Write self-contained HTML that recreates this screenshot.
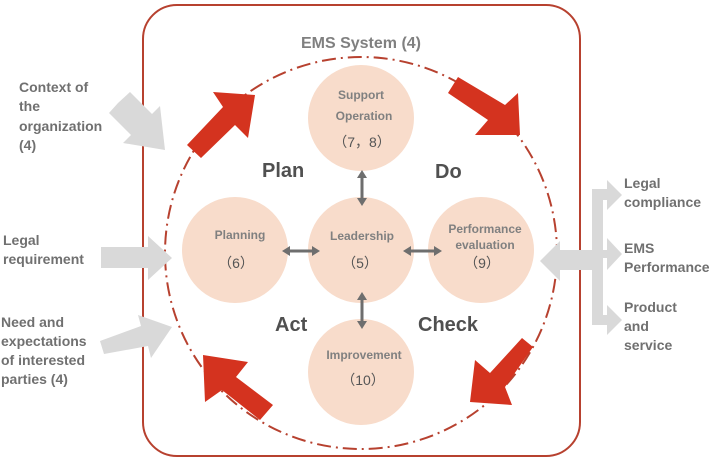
<!DOCTYPE html>
<html><head><meta charset="utf-8"><style>
body{margin:0;background:#fff;width:724px;height:461px;overflow:hidden}
svg{display:block}
text{font-family:"Liberation Sans",sans-serif;font-weight:bold}
</style></head><body>
<svg width="724" height="461" viewBox="0 0 724 461">
<rect x="143" y="5" width="437" height="451" rx="34" fill="none" stroke="#b7412f" stroke-width="2"/>
<text x="361" y="48" font-size="16" fill="#808080" text-anchor="middle" font-weight="bold">EMS System (4)</text>
<circle cx="361" cy="253" r="196" fill="none" stroke="#b7412f" stroke-width="2" stroke-dasharray="14,5,2,5"/>
<g fill="#f8dccb">
<circle cx="361" cy="118" r="53"/><circle cx="235" cy="250" r="53"/><circle cx="361" cy="250" r="53"/><circle cx="481" cy="250" r="53"/><circle cx="361" cy="372" r="53"/>
</g>
<!-- red arrows -->
<g fill="#d4331f">
<polygon points="187,145 223,107 213,92 255,95 248,138 235,125 201,158"/>
<polygon points="458,77 505,105 518,93 520,135 475,135 488,120 448,93"/>
<polygon points="522,338 533,347 505,387 512,405 470,402 475,360 490,373"/>
<polygon points="203,355 248,362 236,377 273,405 260,420 222,390 205,402"/>
</g>
<!-- dark connectors -->
<g stroke="#6e6e6e" stroke-width="3" fill="#6e6e6e">
<line x1="362" y1="176" x2="362" y2="200"/><polygon points="357,178 367,178 362,170" stroke="none"/><polygon points="357,198 367,198 362,206" stroke="none"/>
<line x1="362" y1="298" x2="362" y2="323"/><polygon points="357,300 367,300 362,292" stroke="none"/><polygon points="357,321 367,321 362,329" stroke="none"/>
<line x1="288" y1="251" x2="314" y2="251"/><polygon points="290,246 290,256 282,251" stroke="none"/><polygon points="312,246 312,256 320,251" stroke="none"/>
<line x1="409" y1="251" x2="436" y2="251"/><polygon points="411,246 411,256 403,251" stroke="none"/><polygon points="434,246 434,256 442,251" stroke="none"/>
</g>
<g font-size="12" fill="#808080" text-anchor="middle">
<text x="361" y="99">Support</text><text x="364" y="120">Operation</text>
<text x="240" y="239">Planning</text><text x="362" y="240">Leadership</text>
<text x="485" y="233">Performance</text><text x="485" y="249">evaluation</text>
<text x="364" y="359">Improvement</text>
</g>
<g font-size="14" fill="#555" text-anchor="middle">
<text x="362" y="147" font-weight="normal" style="font-weight:normal">（7，8）</text>
<text x="236" y="268" style="font-weight:normal">（6）</text>
<text x="360" y="268" style="font-weight:normal">（5）</text>
<text x="482" y="268" style="font-weight:normal">（9）</text>
<text x="363" y="385" style="font-weight:normal">（10）</text>
</g>
<g font-size="20" fill="#505050">
<text x="262" y="177">Plan</text><text x="435" y="178">Do</text>
<text x="275" y="331">Act</text><text x="418" y="331">Check</text>
</g>
<!-- gray arrows left -->
<g fill="#d9d9d9">
<polygon points="118,103 130,92 152,114 160,106 165,150 123,143 131,135 109,113"/>
<polygon points="101,247 148,247 148,236 172,258 148,280 148,268 101,268"/>
<polygon points="104,354 100,341 141,326 138,315 172,327 151,358 148,346"/>
<polygon points="540,261 560,241 560,250 592,250 592,189 607,189 607,180 622,195 607,210 607,200 603,200 603,250 607,250 607,238 622,254 607,270 607,258 603,258 603,315 607,315 607,305 622,320 607,335 607,325 592,325 592,270 560,270 560,281"/>
</g>
<g font-size="14" fill="#707070">
<text x="19" y="92">Context of</text><text x="19" y="111">the</text><text x="19" y="131">organization</text><text x="19" y="150">(4)</text>
<text x="3" y="245">Legal</text><text x="3" y="264">requirement</text>
<text x="1" y="327">Need and</text><text x="1" y="346">expectations</text><text x="1" y="365">of interested</text><text x="1" y="384">parties (4)</text>
<text x="624" y="188">Legal</text><text x="624" y="207">compliance</text>
<text x="624" y="253">EMS</text><text x="624" y="272">Performance</text>
<text x="624" y="312">Product</text><text x="624" y="331">and</text><text x="624" y="350">service</text>
</g>
</svg>
</body></html>
